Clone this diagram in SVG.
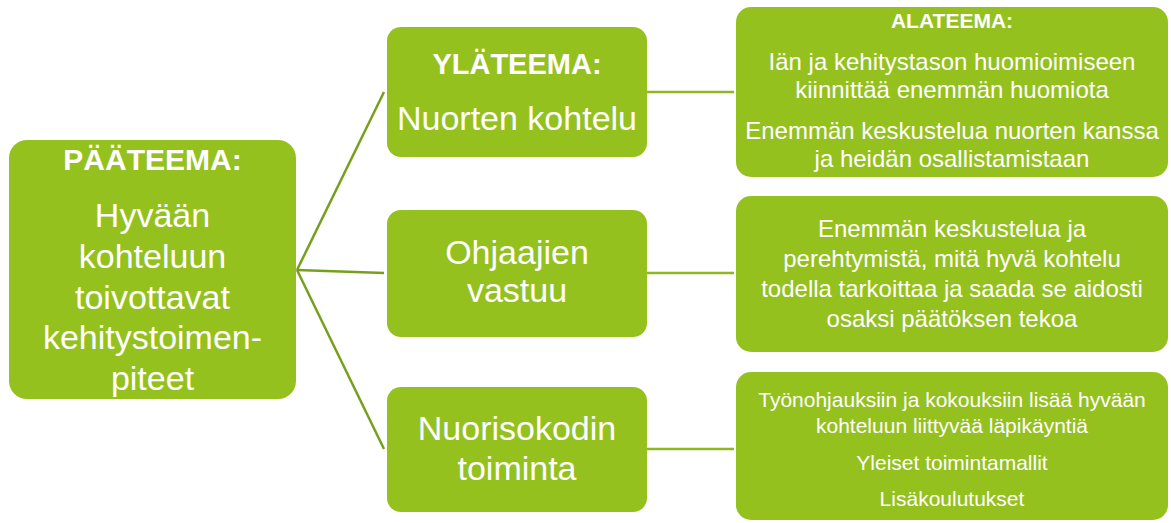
<svg xmlns="http://www.w3.org/2000/svg" width="1171" height="523" viewBox="0 0 1171 523">
<style>
.box{fill:#95C11F;}
.t{font-family:"Liberation Sans",Arial,sans-serif;fill:#ffffff;text-anchor:middle;}
.b{font-weight:bold;}
.c1{stroke:#76A01C;stroke-width:2.5;fill:none;}
.c2{stroke:#8DB823;stroke-width:2.5;fill:none;}
</style>
<rect width="1171" height="523" fill="#ffffff"/>
<g id="connectors">
<line class="c1" x1="297" y1="270" x2="384" y2="92"/>
<line class="c1" x1="297" y1="270" x2="384" y2="273"/>
<line class="c1" x1="297" y1="270" x2="384" y2="449"/>
<line class="c2" x1="647" y1="92" x2="734" y2="92"/>
<line class="c2" x1="647" y1="273" x2="734" y2="273"/>
<line class="c2" x1="647" y1="449" x2="734" y2="449"/>
</g>
<g id="paateema">
<rect class="box" x="9" y="140" width="287" height="259" rx="18"/>
<text class="t b" x="152.5" y="170" font-size="30">PÄÄTEEMA:</text>
<text class="t" x="152.5" y="227" font-size="34">Hyvään</text>
<text class="t" x="152.5" y="268" font-size="34">kohteluun</text>
<text class="t" x="152.5" y="309" font-size="34">toivottavat</text>
<text class="t" x="152.5" y="349" font-size="34">kehitystoimen-</text>
<text class="t" x="152.5" y="390" font-size="34">piteet</text>
</g>
<g id="ylateema1">
<rect class="box" x="387" y="27" width="260" height="130" rx="14"/>
<text class="t b" x="517" y="74" font-size="29">YLÄTEEMA:</text>
<text class="t" x="517" y="130" font-size="34">Nuorten kohtelu</text>
</g>
<g id="ylateema2">
<rect class="box" x="387" y="210" width="260" height="127" rx="14"/>
<text class="t" x="517" y="264" font-size="34">Ohjaajien</text>
<text class="t" x="517" y="302" font-size="34">vastuu</text>
</g>
<g id="ylateema3">
<rect class="box" x="387" y="387" width="260" height="125" rx="14"/>
<text class="t" x="517" y="440" font-size="34">Nuorisokodin</text>
<text class="t" x="517" y="480" font-size="34">toiminta</text>
</g>
<g id="alateema1">
<rect class="box" x="736" y="7" width="432" height="170" rx="15"/>
<text class="t b" x="952" y="28" font-size="21">ALATEEMA:</text>
<text class="t" x="952" y="70" font-size="24">Iän ja kehitystason huomioimiseen</text>
<text class="t" x="952" y="98" font-size="24">kiinnittää enemmän huomiota</text>
<text class="t" x="952" y="139" font-size="24">Enemmän keskustelua nuorten kanssa</text>
<text class="t" x="952" y="167" font-size="24">ja heidän osallistamistaan</text>
</g>
<g id="alateema2">
<rect class="box" x="736" y="196" width="432" height="156" rx="15"/>
<text class="t" x="952" y="237" font-size="24">Enemmän keskustelua ja</text>
<text class="t" x="952" y="267" font-size="24">perehtymistä, mitä hyvä kohtelu</text>
<text class="t" x="952" y="297" font-size="24">todella tarkoittaa ja saada se aidosti</text>
<text class="t" x="952" y="327" font-size="24">osaksi päätöksen tekoa</text>
</g>
<g id="alateema3">
<rect class="box" x="736" y="372" width="432" height="148" rx="15"/>
<text class="t" x="952" y="407" font-size="21">Työnohjauksiin ja kokouksiin lisää hyvään</text>
<text class="t" x="952" y="433" font-size="21">kohteluun liittyvää läpikäyntiä</text>
<text class="t" x="952" y="470" font-size="21">Yleiset toimintamallit</text>
<text class="t" x="952" y="506" font-size="21">Lisäkoulutukset</text>
</g>
</svg>
